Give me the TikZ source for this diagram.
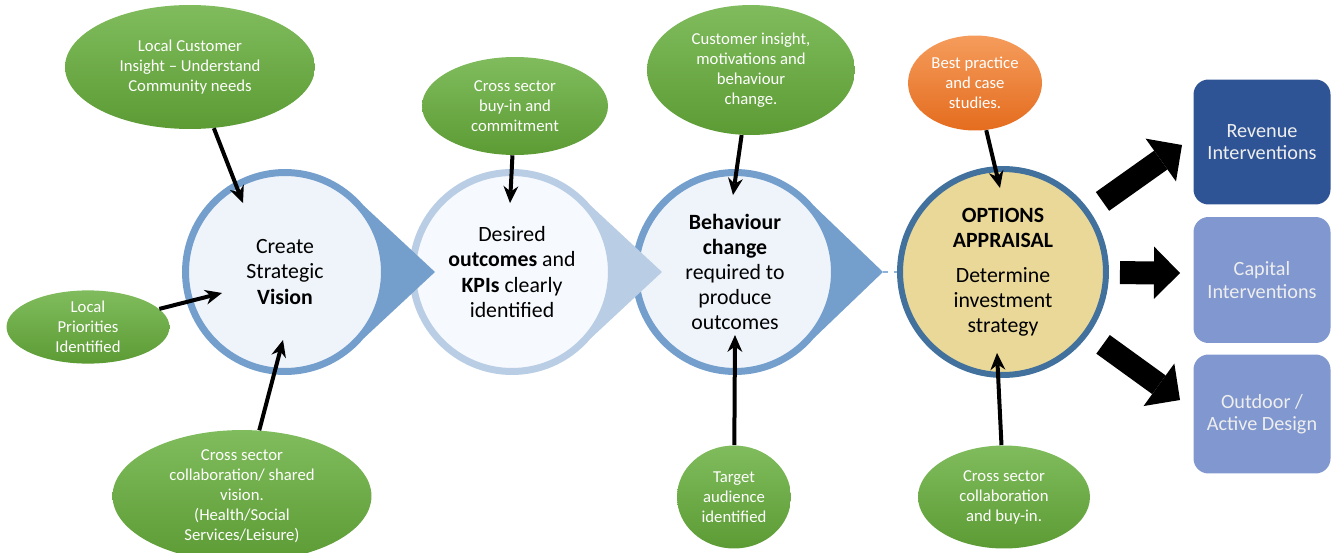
\documentclass[tikz,border=0pt]{standalone}
\usepackage{fontspec}
\setmainfont{Carlito}
\usepackage{tikz}
\usetikzlibrary{arrows.meta,shapes.geometric,positioning,calc}
\definecolor{ovblue}{RGB}{116,159,205}
\definecolor{ovlight}{RGB}{185,205,229}
\definecolor{ovfill}{RGB}{239,244,250}
\definecolor{ovfilltwo}{RGB}{246,249,253}
\definecolor{ovsteel}{RGB}{65,113,156}
\definecolor{ovwheat}{RGB}{234,216,152}
\definecolor{ovgreentop}{RGB}{128,188,93}
\definecolor{ovgreenbot}{RGB}{92,155,52}
\definecolor{ovorangetop}{RGB}{245,156,92}
\definecolor{ovorangebot}{RGB}{228,108,30}
\definecolor{ovnavy}{RGB}{47,84,150}
\definecolor{ovperi}{RGB}{128,151,207}
\definecolor{ovboxtext}{RGB}{238,238,238}
\tikzstyle{stage} = [circle, minimum size=3.98cm, inner sep=0pt, align=center, line width=0.14cm, draw=ovblue, fill=ovfill, font=\fontsize{12.4}{14.3}\selectfont]
\tikzstyle{input} = [ellipse, inner sep=0pt, align=center, text=white, top color=ovgreentop, bottom color=ovgreenbot, font=\fontsize{9.5}{11.4}\selectfont]
\tikzstyle{evidence} = [input, top color=ovorangetop, bottom color=ovorangebot]
\tikzstyle{outbox} = [rectangle, rounded corners=0.3cm, minimum width=2.74cm, inner sep=0pt, align=center, text=ovboxtext, font=\fontsize{11.5}{12.6}\selectfont]
\tikzstyle{arrow} = [line width=0.08cm, -{Stealth[length=0.34cm,width=0.3cm,line width=0pt]}]
\tikzstyle{bigarrow} = [line width=0.46cm, -{Triangle[length=0.52cm,width=1.05cm,line width=0pt]}]

\begin{document}
\begin{tikzpicture}[x=0.02cm, y=0.02cm]
\useasboundingbox (0,0) rectangle (1335,552);
\coordinate (p1) at (285,280);
\coordinate (p2) at (512,280);
\coordinate (p3) at (735,280);
\coordinate (p4) at (1003,280);
\coordinate (tip3) at ($(p3)+(2.96cm,0)$);

% Stages, drawn right to left so each pointer overlaps the next circle
\fill[ovblue] ($(p3)+(40:2.06cm)$) -- (tip3) -- ($(p3)+(-40:2.06cm)$) -- cycle;
\node[stage] (behav) at (p3) {\textbf{Behaviour}\\\textbf{change}\\required to\\produce\\outcomes};
\fill[ovlight] ($(p2)+(40:2.06cm)$) -- ($(p2)+(3cm,0)$) -- ($(p2)+(-40:2.06cm)$) -- cycle;
\node[stage, draw=ovlight, fill=ovfilltwo] (kpi) at (p2) {Desired\\\textbf{outcomes} and\\\textbf{KPIs} clearly\\identified};
\fill[ovblue] ($(p1)+(40:2.06cm)$) -- ($(p1)+(3cm,0)$) -- ($(p1)+(-40:2.06cm)$) -- cycle;
\node[stage] (vision) at (p1) {Create\\Strategic\\\textbf{Vision}};
\node[stage, minimum size=4.12cm, line width=0.12cm, draw=ovsteel, fill=ovwheat] (options) at (p4) {\textbf{OPTIONS}\\\textbf{APPRAISAL}\\[0.2cm]Determine\\investment\\strategy};
\draw[ovblue!80, dashed, line width=1pt] (tip3) -- (options);

% Inputs
\node[input, minimum width=5cm, minimum height=2.48cm] (insight) at (190,485) {Local Customer\\Insight -- Understand\\Community needs};
\node[input, minimum width=3.26cm, minimum height=1.44cm] (priority) at (88,225) {Local\\Priorities\\Identified};
\node[input, minimum width=5.18cm, minimum height=2.36cm] (shared) at (242,56) {Cross sector\\collaboration/ shared\\vision.\\(Health/Social\\Services/Leisure)};
\node[input, minimum width=3.72cm, minimum height=1.96cm] (buyin) at (515,446) {Cross sector\\buy-in and\\commitment};
\node[input, minimum width=4.16cm, minimum height=2.6cm] (custom) at (751,482) {Customer insight,\\motivations and\\behaviour\\change.};
\node[evidence, minimum width=2.68cm, minimum height=1.9cm] (best) at (975,469) {Best practice\\and case\\studies.};
\node[input, minimum width=2.28cm, minimum height=2.06cm] (target) at (734,55) {Target\\audience\\identified};
\node[input, minimum width=3.44cm, minimum height=2.06cm] (collab) at (1004,55) {Cross sector\\collaboration\\and buy-in.};

% Outputs
\node[outbox, fill=ovnavy, minimum height=2.5cm] (revenue) at (1262,410) {Revenue\\Interventions};
\node[outbox, fill=ovperi, minimum height=2.52cm] (capital) at (1262,272) {Capital\\Interventions};
\node[outbox, fill=ovperi, minimum height=2.38cm] (outdoor) at (1262,138) {Outdoor /\\Active Design};

% Arrow ends inside the stages
\coordinate (vtop) at (243,349);
\coordinate (vleft) at (222,259);
\coordinate (vbot) at (283,212);
\coordinate (ktop) at (510,349);
\coordinate (btop) at (733,357);
\coordinate (bbot) at (735,217);
\coordinate (otop) at (1000,364);
\coordinate (obot) at (997,199);
\coordinate (revtip) at (1182,407);
\coordinate (captip) at (1180,279);
\coordinate (outtip) at (1180,152);

\draw[arrow] (insight) -- (vtop);
\draw[arrow] (priority) -- (vleft);
\draw[arrow] (shared) -- (vbot);
\draw[arrow] (buyin) -- (ktop);
\draw[arrow] (custom) -- (btop);
\draw[arrow] (target) -- (bbot);
\draw[arrow] (best) -- (otop);
\draw[arrow] (collab) -- (obot);

\draw[bigarrow, shorten <=0.32cm] (options) -- (revtip);
\draw[bigarrow, shorten <=0.22cm] (options) -- (captip);
\draw[bigarrow, shorten <=0.35cm] (options) -- (outtip);
\end{tikzpicture}
\end{document}
